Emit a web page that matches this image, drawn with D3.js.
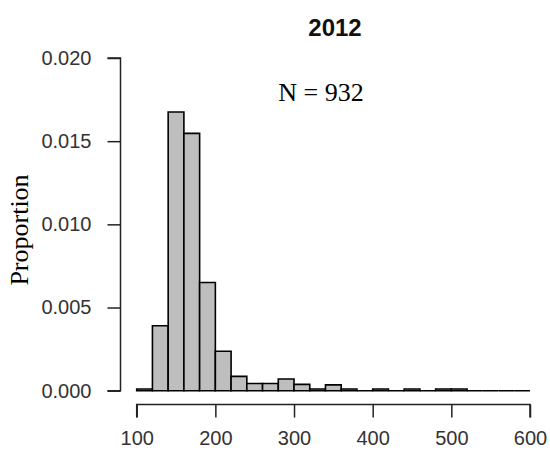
<!DOCTYPE html>
<html>
<head>
<meta charset="utf-8">
<script src="https://cdn.jsdelivr.net/npm/d3@7"></script>
<style>
  html, body { margin: 0; padding: 0; background: #fff; }
  svg { display: block; }
</style>
</head>
<body>
<svg id="chart" width="550" height="462"></svg>
<script>
// Histogram of values for 2012, shown as proportion per unit (bin width 20)
const binEdges = [100, 120, 140, 160, 180, 200, 220, 240, 260, 280, 300, 320, 340, 360, 380, 400, 420, 440, 460, 480, 500, 520, 540, 560, 580, 600];
const proportions = [0.0001, 0.0039, 0.01675, 0.01547, 0.0065, 0.00237, 0.00086, 0.00043, 0.00043, 0.0007, 0.00038, 0.0001, 0.00035, 0.0001, 0, 0.0001, 0, 0.0001, 0, 0.0001, 0.0001, 0, 0, 0, 0];
const xTicks = [100, 200, 300, 400, 500, 600];
const yTicks = [0, 0.005, 0.010, 0.015, 0.020];
const titleText = "2012";
const sampleSize = 932;

const svg = d3.select("#chart");

const x = d3.scaleLinear().domain([100, 600]).range([136.7, 530]);
const y = d3.scaleLinear().domain([0, 0.02]).range([390.7, 58]);

const bins = proportions.map((p, i) => ({ x0: binEdges[i], x1: binEdges[i + 1], p }));

// bars drawn as closed outlines so empty bins still show as a line on the baseline
svg.append("g")
  .selectAll("path")
  .data(bins)
  .join("path")
  .attr("d", d => `M${x(d.x0)},${y(0)}V${y(d.p)}H${x(d.x1)}V${y(0)}Z`)
  .attr("fill", "#bebebe")
  .attr("stroke", "#000")
  .attr("stroke-width", 1.6);

// axes
const axisColor = "#222";
const xAxis = svg.append("g")
  .attr("transform", "translate(0,404.5)")
  .call(d3.axisBottom(x).tickValues(xTicks).tickSize(13).tickPadding(8).tickFormat(d3.format("d")));

const yAxis = svg.append("g")
  .attr("transform", "translate(120.5,0)")
  .call(d3.axisLeft(y).tickValues(yTicks).tickSize(13).tickPadding(16).tickFormat(d3.format(".3f")));

[xAxis, yAxis].forEach(g => {
  g.select(".domain").attr("stroke", axisColor).attr("stroke-width", 1.5)
    .attr("d", g === xAxis
      ? `M${x(100)},13V0H${x(600)}V13`
      : `M-13,${y(0.02)}H0V${y(0)}H-13`);
  g.selectAll(".tick line").attr("stroke", axisColor).attr("stroke-width", 1.5);
  g.selectAll(".tick text")
    .attr("fill", "#333")
    .style("font-family", "Liberation Sans, Arial, sans-serif")
    .style("font-size", "20px");
});
xAxis.selectAll(".tick text").attr("dy", "0.95em");

// title
svg.append("text")
  .attr("x", 335)
  .attr("y", 36)
  .attr("text-anchor", "middle")
  .style("font-family", "Liberation Sans, Arial, sans-serif")
  .style("font-weight", "bold")
  .style("font-size", "24px")
  .attr("fill", "#111")
  .text(titleText);

// sample size annotation
svg.append("text")
  .attr("x", 321)
  .attr("y", 101)
  .attr("text-anchor", "middle")
  .style("font-family", "Liberation Serif, Times New Roman, serif")
  .style("font-size", "26px")
  .attr("fill", "#000")
  .text(`N = ${sampleSize}`);

// y axis title
svg.append("text")
  .attr("transform", `translate(28,230) rotate(-90)`)
  .attr("text-anchor", "middle")
  .style("font-family", "Liberation Serif, Times New Roman, serif")
  .style("font-size", "26px")
  .attr("fill", "#000")
  .text("Proportion");
</script>
</body>
</html>
